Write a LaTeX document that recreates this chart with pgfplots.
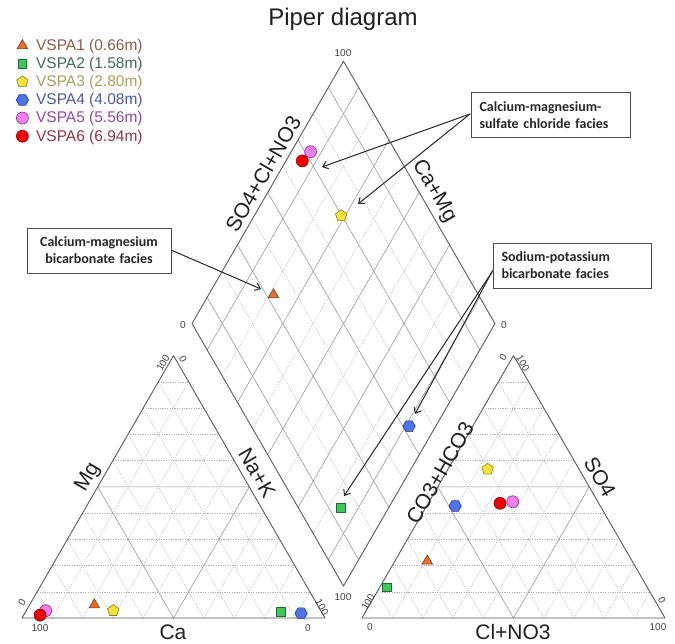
\documentclass[border=0pt]{standalone}
\usepackage{pgfplots}
\pgfplotsset{compat=1.18}
\usepackage{pgfplotstable}
\usepackage{fontspec}
\setmainfont{Liberation Sans}
\newfontfamily\boxfont{Carlito}
\usetikzlibrary{calc,arrows.meta}

\pgfdeclareplotmark{hexagon*}{%
 \pgfpathmoveto{\pgfpointpolar{0}{\pgfplotmarksize}}%
 \pgfpathlineto{\pgfpointpolar{60}{\pgfplotmarksize}}%
 \pgfpathlineto{\pgfpointpolar{120}{\pgfplotmarksize}}%
 \pgfpathlineto{\pgfpointpolar{180}{\pgfplotmarksize}}%
 \pgfpathlineto{\pgfpointpolar{240}{\pgfplotmarksize}}%
 \pgfpathlineto{\pgfpointpolar{300}{\pgfplotmarksize}}%
 \pgfpathclose
 \pgfusepathqfillstroke}

% cations (Ca Mg NaK, %) and anions (HCO3 Cl SO4, %)
\pgfplotstableread{
Ca Mg NaK HCO Cl SO
73.6 5.0 21.4 67.6 10.7 21.7
}\vspaA
\pgfplotstableread{
Ca Mg NaK HCO Cl SO
13.4 2.4 84.2 86.0 2.3 11.7
}\vspaB
\pgfplotstableread{
Ca Mg NaK HCO Cl SO
68.5 2.8 28.7 30.2 13.1 56.7
}\vspaC
\pgfplotstableread{
Ca Mg NaK HCO Cl SO
7.0 1.8 91.2 47.9 9.4 42.7
}\vspaD
\pgfplotstableread{
Ca Mg NaK HCO Cl SO
90.8 2.8 6.4 28.1 27.6 44.3
}\vspaE
\pgfplotstableread{
Ca Mg NaK HCO Cl SO
93.5 1.1 5.4 32.6 23.7 43.7
}\vspaF

\definecolor{f1}{HTML}{E8702A}\definecolor{d1}{HTML}{7A3A10}\definecolor{t1}{HTML}{8C5A46}
\definecolor{f2}{HTML}{3CC85A}\definecolor{d2}{HTML}{1F6E30}\definecolor{t2}{HTML}{3D6B55}
\definecolor{f3}{HTML}{F5E33A}\definecolor{d3}{HTML}{8A7A10}\definecolor{t3}{HTML}{A8A05A}
\definecolor{f4}{HTML}{4F74E8}\definecolor{d4}{HTML}{1E3A9A}\definecolor{t4}{HTML}{4A58A8}
\definecolor{f5}{HTML}{F080F0}\definecolor{d5}{HTML}{8A2A8A}\definecolor{t5}{HTML}{9248A0}
\definecolor{f6}{HTML}{F00000}\definecolor{d6}{HTML}{8A0000}\definecolor{t6}{HTML}{8E3048}

\pgfplotsset{
  table/cation/.style={x expr={22+3.03*(\thisrow{NaK}+0.5*\thisrow{Mg})}, y expr={25+2.624*\thisrow{Mg}}},
  table/anion/.style={x expr={362+3.03*(\thisrow{Cl}+0.5*\thisrow{SO})}, y expr={25+2.624*\thisrow{SO}}},
  table/diamond/.style={x expr={343.5+1.515*(\thisrow{SO}+\thisrow{Cl}-\thisrow{Ca}-\thisrow{Mg})}, y expr={57+2.624*(\thisrow{Ca}+\thisrow{Mg}+\thisrow{SO}+\thisrow{Cl})}},
  mk/.style={only marks, line width=0.6pt, legend image code/.code={\draw[##1] plot coordinates {(0pt,0pt)};}},
  s1/.style={mk, mark=triangle*, mark size=6pt, draw=d1, fill=f1},
  s2/.style={mk, mark=square*, mark size=4.3pt, draw=d2, fill=f2},
  s3/.style={mk, mark=pentagon*, mark size=6pt, draw=d3, fill=f3},
  s4/.style={mk, mark=hexagon*, mark size=6.2pt, draw=d4, fill=f4},
  s5/.style={mk, mark=*, mark size=6pt, draw=d5, fill=f5},
  s6/.style={mk, mark=*, mark size=6pt, draw=d6, fill=f6},
}

\tikzset{
  dotg/.style={gray!60, line width=0.45pt, dash pattern=on 1.2pt off 1.2pt},
  midg/.style={gray!85, line width=0.55pt},
  frame/.style={black!65, line width=0.9pt, line join=round},
  tk/.style={font=\fontsize{10}{12}\selectfont, text=black!75, inner sep=0pt},
  lab/.style={font=\fontsize{21}{24}\selectfont, text=black!88, inner sep=0pt},
  fbox/.style={draw=black!70, line width=0.8pt, fill=white, font=\boxfont\bfseries\fontsize{14}{17}\selectfont, text=black!85, inner xsep=8pt, minimum height=45pt},
  arr/.style={black!85, line width=1pt, -{Straight Barb[length=5pt,width=8pt]}},
}

\newcommand\trigrid[3]{%
 \foreach \f in {0.1,0.2,0.3,0.4,0.6,0.7,0.8,0.9}{%
   \draw[dotg] ($(#1)!\f!(#3)$) -- ($(#2)!\f!(#3)$);
   \draw[dotg] ($(#1)!\f!(#2)$) -- ($(#1)!\f!(#3)$);
   \draw[dotg] ($(#2)!\f!(#1)$) -- ($(#2)!\f!(#3)$);
 }
 \draw[midg] ($(#1)!0.5!(#3)$) -- ($(#2)!0.5!(#3)$) -- ($(#1)!0.5!(#2)$) -- cycle;
 \draw[frame] (#1) -- (#2) -- (#3) -- cycle;
}

\begin{document}
\begin{tikzpicture}
\begin{scope}[x=1pt,y=1pt]
 \coordinate (A1) at (22,25); \coordinate (B1) at (325,25); \coordinate (C1) at (173.5,287.4);
 \coordinate (A2) at (362,25); \coordinate (B2) at (665,25); \coordinate (C2) at (513.5,287.4);
 \coordinate (B) at (343.5,57); \coordinate (L) at (192,319.4);
 \coordinate (R) at (495,319.4); \coordinate (T) at (343.5,581.8);
 \trigrid{A1}{B1}{C1}
 \trigrid{A2}{B2}{C2}
 \foreach \f in {0.2,0.4,0.6,0.8}{%
   \draw[dotg] ($(B)!\f!(L)$) -- ($(R)!\f!(T)$);
   \draw[dotg] ($(B)!\f!(R)$) -- ($(L)!\f!(T)$);
 }
 \foreach \f in {0.1,0.3,0.5,0.7,0.9}{%
   \draw[midg] ($(B)!\f!(L)$) -- ($(R)!\f!(T)$);
   \draw[midg] ($(B)!\f!(R)$) -- ($(L)!\f!(T)$);
 }
 \draw[frame] (B) -- (L) -- (T) -- (R) -- cycle;

 % title
 \node[font=\fontsize{24}{28}\selectfont, text=black!88] at (343,624) {Piper diagram};

 % axis labels
 \node[lab, rotate=60] at (88,166) {Mg};
 \node[lab] at (173,11) {Ca};
 \node[lab, rotate=-60] at (257,170) {Na+K};
 \node[lab] at (513,11) {Cl+NO3};
 \node[lab, rotate=60] at (440,170) {CO3+HCO3};
 \node[lab, rotate=-60] at (600,166) {SO4};
 \node[lab, rotate=60] at (263,469) {SO4+Cl+NO3};
 \node[lab, rotate=-60] at (434,452) {Ca+Mg};

 % tick labels
 \node[tk] at (40,15) {100};
 \node[tk] at (308,15) {0};
 \node[tk, rotate=60] at (22,41) {0};
 \node[tk, rotate=60] at (163,280) {100};
 \node[tk, rotate=-60] at (183,284) {0};
 \node[tk, rotate=-60] at (322,36) {100};
 \node[tk] at (370,16) {0};
 \node[tk] at (658,16) {100};
 \node[tk, rotate=60] at (368,41) {100};
 \node[tk, rotate=60] at (503,286) {0};
 \node[tk, rotate=-60] at (523,280) {100};
 \node[tk, rotate=-60] at (662,43) {0};
 \node[tk] at (343,590) {100};
 \node[tk] at (183,318) {0};
 \node[tk] at (504,318) {0};
 \node[tk] at (343,46) {100};

 % annotation boxes and arrows
 \draw[arr] (470,529) -- (322,476);
 \draw[arr] (470,529) -- (358,439);
 \draw[arr] (171,393) -- (261,354);
 \draw[arr] (493,373) -- (415,229);
 \draw[arr] (492,371) -- (344,147);
 \node[fbox, text width=143pt, align=left] at (551,528) {Calcium-magnesium-\\sulfate chloride facies};
 \node[fbox, text width=142pt, align=left] at (572.5,377.5) {Sodium-potassium\\bicarbonate facies};
 \node[fbox, text width=128pt, align=center] at (99,392.5) {Calcium-magnesium\\bicarbonate facies};
\end{scope}

\begin{axis}[scale only axis, width=675pt, height=643pt,
  xmin=0, xmax=675, ymin=0, ymax=643, hide axis, clip=false,
  legend style={at={(axis cs:13,607)}, anchor=north west, draw=none, fill=none,
    font=\fontsize{15.5}{18}\selectfont, row sep=3.4pt, column sep=6.5pt,
    nodes={inner sep=1pt}, legend cell align=left}]
 \addplot[s1] table[cation]{\vspaA}; \addlegendentry{\textcolor{t1}{VSPA1 (0.66m)}}
 \addplot[s1, forget plot] table[anion]{\vspaA};
 \addplot[s1, forget plot] table[diamond]{\vspaA};
 \addplot[s2] table[cation]{\vspaB}; \addlegendentry{\textcolor{t2}{VSPA2 (1.58m)}}
 \addplot[s2, forget plot] table[anion]{\vspaB};
 \addplot[s2, forget plot] table[diamond]{\vspaB};
 \addplot[s3] table[cation]{\vspaC}; \addlegendentry{\textcolor{t3}{VSPA3 (2.80m)}}
 \addplot[s3, forget plot] table[anion]{\vspaC};
 \addplot[s3, forget plot] table[diamond]{\vspaC};
 \addplot[s4] table[cation]{\vspaD}; \addlegendentry{\textcolor{t4}{VSPA4 (4.08m)}}
 \addplot[s4, forget plot] table[anion]{\vspaD};
 \addplot[s4, forget plot] table[diamond]{\vspaD};
 \addplot[s5] table[cation]{\vspaE}; \addlegendentry{\textcolor{t5}{VSPA5 (5.56m)}}
 \addplot[s5, forget plot] table[anion]{\vspaE};
 \addplot[s5, forget plot] table[diamond]{\vspaE};
 \addplot[s6] table[cation]{\vspaF}; \addlegendentry{\textcolor{t6}{VSPA6 (6.94m)}}
 \addplot[s6, forget plot] table[anion]{\vspaF};
 \addplot[s6, forget plot] table[diamond]{\vspaF};
\end{axis}
\pgfresetboundingbox
\path (0,0) rectangle (675pt,643pt);
\end{tikzpicture}
\end{document}
